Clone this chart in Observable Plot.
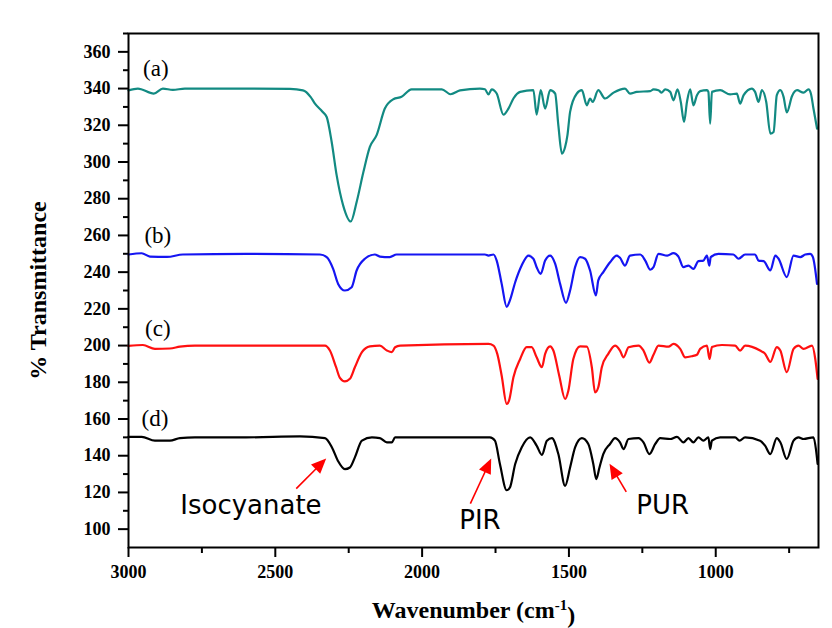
<!DOCTYPE html>
<html>
<head>
<meta charset="utf-8">
<script src="https://cdn.jsdelivr.net/npm/d3@7"></script>
<script src="https://cdn.jsdelivr.net/npm/@observablehq/plot@0.6"></script>
<style>
  body { margin: 0; background: #fff; }
  #chart { width: 832px; height: 628px; }
</style>
</head>
<body>
<div id="chart"></div>
<script>
// ---- Data (wavenumber cm^-1, % transmittance offset) ----
const specA = [[3000,339],[2968,340],[2914,337.3],[2883,340],[2849,339.3],[2808,340],[2600,340],[2450,339.8],[2406,339],[2380,335.5],[2365,331.8],[2340,327.5],[2325,324.5],[2308,310.9],[2291,292.7],[2269,276.4],[2243,267.6],[2223,278.2],[2200,294.5],[2178,308.2],[2155,314.6],[2127,329.1],[2098,334.2],[2070,335.5],[2036,339.6],[1933,339.6],[1903,336.9],[1871,339],[1803,340],[1786,339.6],[1774,336.8],[1763,339.6],[1746,337.3],[1723,325.8],[1706,329.1],[1689,334.6],[1666,338.2],[1621,339.1],[1610,325.8],[1596,339.1],[1581,329.1],[1564,339.1],[1547,337.3],[1536,320],[1524,304.6],[1513,308.2],[1505,314.6],[1496,327.3],[1473,337.3],[1456,339.1],[1439,330.9],[1428,334.6],[1419,332.7],[1400,339.1],[1377,334.6],[1348,337.8],[1309,340],[1292,337.3],[1269,338.2],[1223,338.6],[1212,339.6],[1195,339.1],[1184,337.8],[1172,339.6],[1155,338.2],[1144,333.6],[1130,339.6],[1119,332.7],[1108,321.8],[1098,332.7],[1087,339.6],[1076,330.9],[1064,336.4],[1053,338.6],[1030,339.1],[1025,338.2],[1019,320.9],[1013,338.2],[985,339.1],[951,336.8],[928,337.3],[917,331.8],[905,336.4],[877,340],[866,338.2],[854,332.7],[843,339.1],[828,332.7],[814,315.5],[803,316.4],[792,336.4],[780,339.1],[769,335.5],[758,327],[740,336],[723,339.1],[701,337.8],[684,339.6],[676,337.3],[667,329],[655,318.2]];

const specB = [[3000,249.6],[2955,250.3],[2927,248.5],[2869,248.3],[2815,249.6],[2600,250],[2348,249.6],[2325,248.2],[2303,241.8],[2286,233.6],[2263,230],[2240,231.8],[2223,240.9],[2195,247.3],[2161,249.6],[2144,248.5],[2110,248.2],[2087,249.6],[1800,249.6],[1786,249.6],[1774,249],[1757,249.6],[1746,246.3],[1729,233.6],[1712,221.1],[1701,224.6],[1683,234.5],[1661,243.6],[1638,249],[1621,247.3],[1610,242.7],[1596,239.1],[1581,246.3],[1564,249],[1547,244.6],[1530,233.6],[1510,223.3],[1496,230],[1479,242.7],[1462,248.2],[1445,247.3],[1428,240.9],[1408,227.3],[1400,235.5],[1383,240],[1360,245.4],[1337,249],[1326,247.8],[1309,243.6],[1292,249],[1257,249.6],[1240,246.3],[1223,241.3],[1212,242.7],[1195,250],[1165,249],[1144,250.4],[1127,248.5],[1110,242.7],[1093,243.6],[1076,241.8],[1059,246],[1042,246.3],[1030,249],[1022,243.6],[1017,248.2],[991,250],[940,249.6],[922,247.3],[900,249.6],[866,249.6],[854,246.3],[837,246],[814,240.9],[797,249],[786,247.3],[758,237.3],[735,249],[712,248.2],[695,249.6],[678,250],[669,248.2],[655,233.6]];

const specC = [[3000,199.8],[2951,200.3],[2910,198.2],[2859,198.4],[2825,199.4],[2774,200],[2331,200],[2314,197.3],[2293,188.2],[2280,182.4],[2263,180.5],[2246,181.9],[2229,188.2],[2205,196.4],[2178,199.6],[2144,200],[2120,197.3],[2103,196.4],[2092,199.1],[2075,200],[1774,200.9],[1757,200],[1744,195.5],[1729,183.6],[1712,168.2],[1704,170],[1689,182.7],[1666,192.7],[1644,199.1],[1627,199.1],[1610,193.6],[1592,188.2],[1581,195.5],[1564,199.6],[1553,197.3],[1533,183.6],[1513,170.9],[1502,175.4],[1485,192.7],[1462,199.6],[1439,199.4],[1422,188.2],[1411,174.5],[1400,177.3],[1388,188.2],[1366,195.5],[1343,200],[1326,197.3],[1314,193.6],[1297,199.1],[1263,200],[1246,197.3],[1226,190.7],[1212,195],[1195,200],[1161,199.4],[1144,200.9],[1121,198.2],[1104,193.6],[1081,194.2],[1064,195],[1053,198.2],[1030,200],[1021,192.7],[1013,199.2],[979,200.3],[934,200],[917,197.3],[900,200],[849,197.3],[832,195.5],[814,191.1],[792,199.2],[780,197.3],[758,185.5],[735,198.2],[718,200],[701,198.2],[672,200],[661,192.7],[653,181.8]];

const specD = [[3000,150.3],[2955,150.3],[2910,148.2],[2859,148.2],[2825,149.6],[2774,150],[2600,150],[2416,150.5],[2331,149.6],[2307,144.5],[2287,137.3],[2263,132.7],[2246,133.6],[2229,139.1],[2205,148.2],[2171,150],[2144,149.6],[2120,147.3],[2103,147.3],[2092,150],[1800,150],[1769,150],[1752,148.2],[1735,135.5],[1712,121.2],[1701,122.7],[1683,135.5],[1661,144.5],[1632,150],[1610,145.5],[1592,140.5],[1575,148.2],[1558,149.6],[1536,140.9],[1513,123.6],[1496,133.6],[1479,144.5],[1456,149.6],[1434,146.4],[1417,135.5],[1407,127.3],[1396,133.6],[1383,140.9],[1360,146.4],[1343,149.6],[1326,147.3],[1314,143.6],[1297,149.1],[1263,149.6],[1246,147.3],[1226,140.9],[1206,146.4],[1189,149.6],[1155,149.1],[1132,150.3],[1110,147.3],[1093,149.6],[1076,147.3],[1059,150],[1042,148.2],[1025,150],[1019,143.6],[1013,148.2],[985,150],[934,150],[919,148.2],[900,150],[849,148.2],[832,145.5],[814,140.9],[792,149.6],[780,147.3],[758,138.2],[735,148.2],[718,150],[701,149.1],[667,150],[658,142.7],[653,135.5]];

const series = [specA, specB, specC, specD];
const seriesColors = ["#128a82", "#1515f2", "#ff1010", "#000000"];
const seriesLabels = ["(a)", "(b)", "(c)", "(d)"];
const seriesLabelX = [2907, 2900, 2900, 2910];
const seriesLabelY = [350.6, 260, 209.3, 160.2];

const yMajor = [100, 120, 140, 160, 180, 200, 220, 240, 260, 280, 300, 320, 340, 360];
const yMinor = [110, 130, 150, 170, 190, 210, 230, 250, 270, 290, 310, 330, 350, 370];
const xMajor = [3000, 2500, 2000, 1500, 1000];
const xMinor = [2750, 2250, 1750, 1250, 750];

const annotations = ["Isocyanate", "PIR", "PUR"];
const annotX = [2583, 1803, 1181];
const annotY = [112.7, 104.5, 112.7];
const arrowFromX = [2427, 1834, 1303];
const arrowFromY = [121.8, 113.6, 120];
const arrowToX = [2325, 1763, 1360];
const arrowToY = [138.2, 138.2, 135.4];

// ---- Build tables ----
const lineData = series.map((s, i) => s.map(([w, t]) => ({w, t, k: seriesLabels[i]})));
const labelData = seriesLabels.map((l, i) => ({l, x: seriesLabelX[i], y: seriesLabelY[i]}));
const annotData = annotations.map((a, i) => ({a, x: annotX[i], y: annotY[i]}));
const arrowData = annotations.map((a, i) => ({x1: arrowFromX[i], y1: arrowFromY[i], x2: arrowToX[i], y2: arrowToY[i]}));

// custom filled arrow mark (drawn through the plot's scales)
function filledArrows(data) {
  return (index, scales) => {
    const g = d3.create("svg:g");
    for (const d of data) {
      const x1 = scales.x(d.x1), y1 = scales.y(d.y1), x2 = scales.x(d.x2), y2 = scales.y(d.y2);
      const a = Math.atan2(y2 - y1, x2 - x1);
      const L = 15, W = 6.5;
      const bx = x2 - L * Math.cos(a), by = y2 - L * Math.sin(a);
      g.append("line").attr("x1", x1).attr("y1", y1).attr("x2", bx + Math.cos(a)).attr("y2", by + Math.sin(a))
        .attr("stroke", "#ff0000").attr("stroke-width", 1.6);
      const pts = [[x2, y2], [bx - W * Math.sin(a), by + W * Math.cos(a)], [bx + W * Math.sin(a), by - W * Math.cos(a)]];
      g.append("path").attr("d", "M" + pts.map(p => p.join(",")).join("L") + "Z").attr("fill", "#ff0000");
    }
    return g.node();
  };
}

const serif = "'Liberation Serif', 'Times New Roman', 'DejaVu Serif', serif";

const chart = Plot.plot({
  width: 832,
  height: 628,
  marginLeft: 128,
  marginRight: 14,
  marginTop: 33,
  marginBottom: 81,
  style: {fontFamily: serif, fontSize: "18px", fontWeight: "bold", background: "#fff", color: "#000", overflow: "visible"},
  x: {domain: [3000, 650]},
  y: {domain: [90, 370]},
  marks: [
    Plot.axisY(yMajor, {tickSize: 10, tickPadding: 8, strokeWidth: 2, label: null, fontSize: 18, fontWeight: "bold"}),
    Plot.axisY(yMinor, {tickSize: 5, tickFormat: () => "", strokeWidth: 2, label: null}),
    Plot.axisX(xMajor, {tickSize: 10, tickPadding: 8, strokeWidth: 2, label: null, tickFormat: d3.format("d"), fontSize: 18, fontWeight: "bold"}),
    Plot.axisX(xMinor, {tickSize: 6, tickFormat: () => "", strokeWidth: 2, label: null}),
    ...lineData.map((d, i) => Plot.line(d, {x: "w", y: "t", stroke: seriesColors[i], strokeWidth: 2.2, strokeLinejoin: "round", curve: "monotone-x"})),
    Plot.frame({strokeWidth: 2}),
    Plot.text(labelData, {x: "x", y: "y", text: "l", fontSize: 23, fontWeight: "normal", fontFamily: serif, textAnchor: "middle", lineAnchor: "middle"}),
    Plot.text(annotData, {x: "x", y: "y", text: "a", fontSize: 26, fontWeight: "normal", fontFamily: "'DejaVu Sans', sans-serif", textAnchor: "middle", lineAnchor: "middle"}),
    filledArrows(arrowData),
    Plot.text(["% Transmittance"], {frameAnchor: "left", dx: -90, rotate: -90, fontSize: 24, fontWeight: "bold", textAnchor: "middle", lineAnchor: "middle"}),
    Plot.text(["Wavenumber (cm⁻¹)"], {frameAnchor: "bottom", dy: 63, fontSize: 24, fontWeight: "bold", textAnchor: "middle", lineAnchor: "middle"})
  ]
});

// render the superscript of the x title with a real tspan
d3.select(chart).selectAll("text").each(function () {
  if (this.textContent === "Wavenumber (cm⁻¹)") {
    const t = d3.select(this);
    t.text("Wavenumber (cm");
    t.append("tspan").attr("dy", "-0.55em").attr("font-size", "15px").text("-1");
    t.append("tspan").attr("dy", "0.55em").text(")");
  }
});

document.getElementById("chart").appendChild(chart);
</script>
</body>
</html>
